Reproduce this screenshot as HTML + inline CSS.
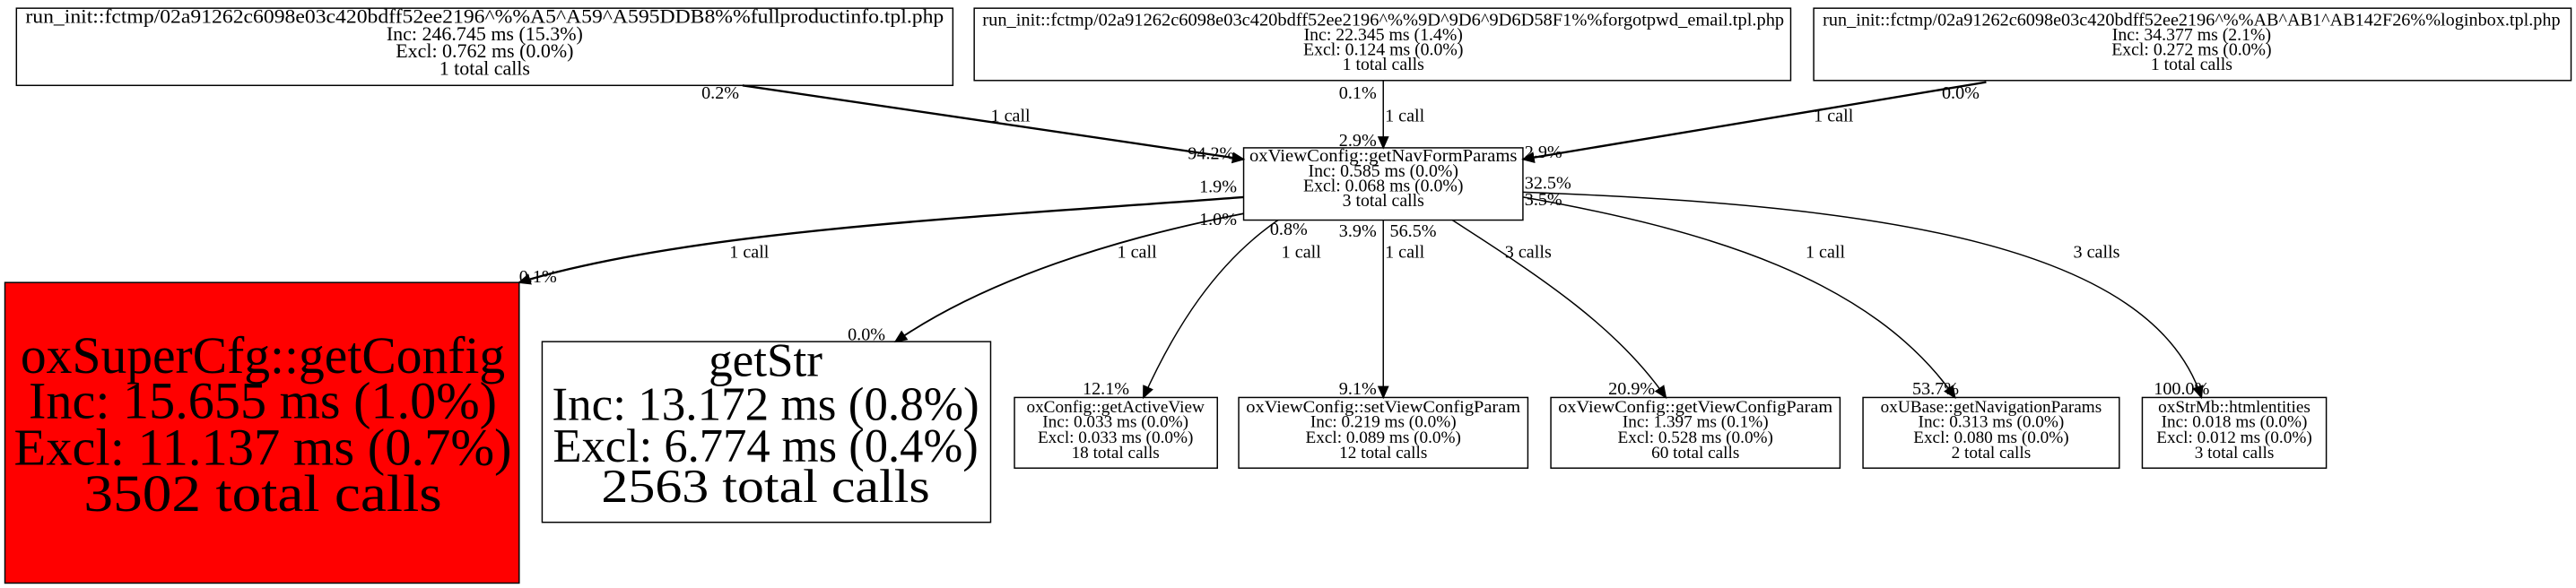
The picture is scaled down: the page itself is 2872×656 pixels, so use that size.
<!DOCTYPE html>
<html><head><meta charset="utf-8"><style>
html,body{margin:0;padding:0;background:#fff;}
svg{display:block;}
text{font-family:"Liberation Serif",serif;fill:#000;}
</style></head><body>
<svg width="2872" height="656" viewBox="0 0 1568 358" preserveAspectRatio="none" xmlns="http://www.w3.org/2000/svg">
<defs>
<marker id="ah" markerWidth="8" markerHeight="8" refX="7" refY="4" orient="auto" markerUnits="userSpaceOnUse">
<path d="M0,0.5 L8,4 L0,7.5 z" fill="#000"/></marker>
</defs>
<rect width="1568" height="358" fill="#fff"/>
<g stroke="#000" stroke-width="0.8" fill="#fff">
<rect x="10" y="5" width="570" height="47"/>
<rect x="593" y="5" width="497" height="44"/>
<rect x="1104" y="5" width="461" height="44"/>
<rect x="757" y="90" width="170" height="44"/>
<rect x="3" y="172" width="313" height="183" fill="#ff0000"/>
<rect x="330" y="208" width="273" height="110"/>
<rect x="617.5" y="242" width="123.5" height="43"/>
<rect x="754" y="242" width="176" height="43"/>
<rect x="944" y="242" width="176" height="43"/>
<rect x="1134" y="242" width="156" height="43"/>
<rect x="1304" y="242" width="112" height="43"/>
</g>
<g text-anchor="middle" font-size="12">
<text x="295" y="14" textLength="559" lengthAdjust="spacingAndGlyphs">run_init::fctmp/02a91262c6098e03c420bdff52ee2196^%%A5^A59^A595DDB8%%fullproductinfo.tpl.php</text>
<text x="295" y="24.5">Inc: 246.745 ms (15.3%)</text>
<text x="295" y="35">Excl: 0.762 ms (0.0%)</text>
<text x="295" y="45.5">1 total calls</text>
</g>
<g text-anchor="middle" font-size="10.8">
<text x="842" y="15.5" textLength="488" lengthAdjust="spacingAndGlyphs">run_init::fctmp/02a91262c6098e03c420bdff52ee2196^%%9D^9D6^9D6D58F1%%forgotpwd_email.tpl.php</text>
<text x="842" y="24.6">Inc: 22.345 ms (1.4%)</text>
<text x="842" y="33.7">Excl: 0.124 ms (0.0%)</text>
<text x="842" y="42.7">1 total calls</text>
<text x="1334" y="15.5" textLength="449" lengthAdjust="spacingAndGlyphs">run_init::fctmp/02a91262c6098e03c420bdff52ee2196^%%AB^AB1^AB142F26%%loginbox.tpl.php</text>
<text x="1334" y="24.6">Inc: 34.377 ms (2.1%)</text>
<text x="1334" y="33.7">Excl: 0.272 ms (0.0%)</text>
<text x="1334" y="42.7">1 total calls</text>
<text x="842" y="98.3" textLength="163" lengthAdjust="spacingAndGlyphs">oxViewConfig::getNavFormParams</text>
<text x="842" y="107.4">Inc: 0.585 ms (0.0%)</text>
<text x="842" y="116.4">Excl: 0.068 ms (0.0%)</text>
<text x="842" y="125.6">3 total calls</text>
</g>
<g text-anchor="middle" font-size="32">
<text x="160" y="227" textLength="295" lengthAdjust="spacingAndGlyphs">oxSuperCfg::getConfig</text>
<text x="160" y="254.6" textLength="285" lengthAdjust="spacingAndGlyphs">Inc: 15.655 ms (1.0%)</text>
<text x="160" y="283" textLength="303" lengthAdjust="spacingAndGlyphs">Excl: 11.137 ms (0.7%)</text>
<text x="160" y="311" textLength="218" lengthAdjust="spacingAndGlyphs">3502 total calls</text>
</g>
<g text-anchor="middle" font-size="29">
<text x="466" y="229">getStr</text>
<text x="466" y="255.6" textLength="260" lengthAdjust="spacingAndGlyphs">Inc: 13.172 ms (0.8%)</text>
<text x="466" y="281" textLength="259" lengthAdjust="spacingAndGlyphs">Excl: 6.774 ms (0.4%)</text>
<text x="466" y="305.6" textLength="200" lengthAdjust="spacingAndGlyphs">2563 total calls</text>
</g>
<g text-anchor="middle" font-size="10.5">
<text x="679" y="251">oxConfig::getActiveView</text>
<text x="679" y="260">Inc: 0.033 ms (0.0%)</text>
<text x="679" y="269.5">Excl: 0.033 ms (0.0%)</text>
<text x="679" y="279">18 total calls</text>
<text x="842" y="251" textLength="167" lengthAdjust="spacingAndGlyphs">oxViewConfig::setViewConfigParam</text>
<text x="842" y="260">Inc: 0.219 ms (0.0%)</text>
<text x="842" y="269.5">Excl: 0.089 ms (0.0%)</text>
<text x="842" y="279">12 total calls</text>
<text x="1032" y="251" textLength="167" lengthAdjust="spacingAndGlyphs">oxViewConfig::getViewConfigParam</text>
<text x="1032" y="260">Inc: 1.397 ms (0.1%)</text>
<text x="1032" y="269.5">Excl: 0.528 ms (0.0%)</text>
<text x="1032" y="279">60 total calls</text>
<text x="1212" y="251">oxUBase::getNavigationParams</text>
<text x="1212" y="260">Inc: 0.313 ms (0.0%)</text>
<text x="1212" y="269.5">Excl: 0.080 ms (0.0%)</text>
<text x="1212" y="279">2 total calls</text>
<text x="1360" y="251">oxStrMb::htmlentities</text>
<text x="1360" y="260">Inc: 0.018 ms (0.0%)</text>
<text x="1360" y="269.5">Excl: 0.012 ms (0.0%)</text>
<text x="1360" y="279">3 total calls</text>
</g>
<g fill="none" stroke="#000" marker-end="url(#ah)">
<path d="M452,52 L757,97" stroke-width="1.3"/>
<path d="M842,49 L842,90" stroke-width="0.8"/>
<path d="M1209,50 L927,97" stroke-width="1.3"/>
<path d="M757,120 C600,132 420,140 316,172" stroke-width="1.3"/>
<path d="M757,130 C680,145 600,170 545,208" stroke-width="1"/>
<path d="M778,134 C740,160 715,200 696,242" stroke-width="0.8"/>
<path d="M842,134 L842,242" stroke-width="0.8"/>
<path d="M884,134 C940,170 985,200 1014,242" stroke-width="0.8"/>
<path d="M927,120 C1040,140 1140,170 1190,242" stroke-width="0.8"/>
<path d="M927,117 C1150,125 1310,150 1340,242" stroke-width="0.8"/>
</g>
<g font-size="11">
<text x="427" y="60">0.2%</text>
<text x="603" y="74">1 call</text>
<text x="723" y="97">94.2%</text>
<text x="815" y="60">0.1%</text>
<text x="843" y="74">1 call</text>
<text x="815" y="89">2.9%</text>
<text x="928" y="96">2.9%</text>
<text x="1182" y="60">0.0%</text>
<text x="1104" y="74">1 call</text>
<text x="928" y="115">32.5%</text>
<text x="928" y="125">3.5%</text>
<text x="730" y="117">1.9%</text>
<text x="730" y="137">1.0%</text>
<text x="773" y="143">0.8%</text>
<text x="815" y="144">3.9%</text>
<text x="846" y="144">56.5%</text>
<text x="444" y="157">1 call</text>
<text x="680" y="157">1 call</text>
<text x="780" y="157">1 call</text>
<text x="843" y="157">1 call</text>
<text x="916" y="157">3 calls</text>
<text x="1099" y="157">1 call</text>
<text x="1262" y="157">3 calls</text>
<text x="316" y="172">0.1%</text>
<text x="516" y="207">0.0%</text>
<text x="659" y="240">12.1%</text>
<text x="815" y="240">9.1%</text>
<text x="979" y="240">20.9%</text>
<text x="1164" y="240">53.7%</text>
<text x="1311" y="240">100.0%</text>
</g>
</svg>
</body></html>
